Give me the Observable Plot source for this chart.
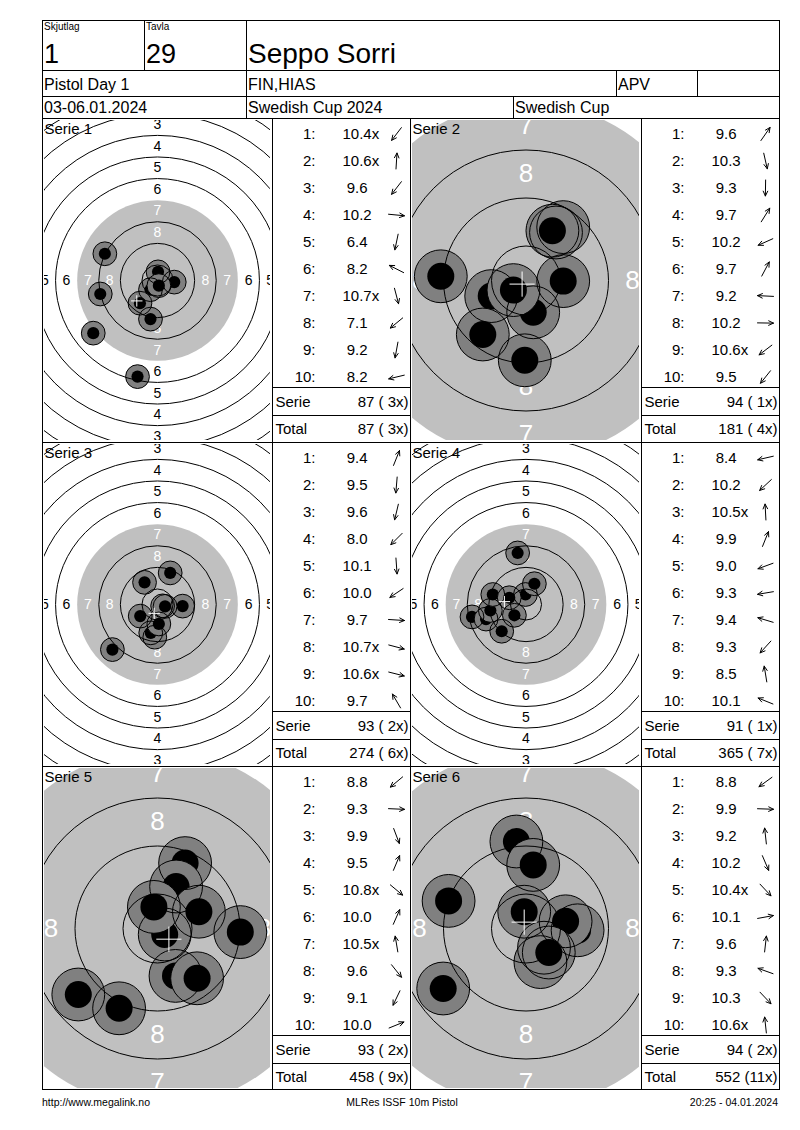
<!DOCTYPE html>
<html>
<head>
<meta charset="utf-8">
<script src="https://cdn.jsdelivr.net/npm/d3@7"></script>
<script src="https://cdn.jsdelivr.net/npm/@observablehq/plot@0.6"></script>
<style>
html, body { margin: 0; padding: 0; background: #fff; }
#page { position: relative; width: 800px; height: 1130px; overflow: hidden; background: #fff;
        font-family: "Liberation Sans", Arial, Helvetica, sans-serif; }
</style>
</head>
<body>
<div id="page"></div>
<script>
// ---------------- data ----------------
const headerSmall = ["Skjutlag", "Tavla"];
const relay = "1";
const lane = "29";
const shooterName = "Seppo Sorri";
const eventName = "Pistol Day 1";
const clubName = "FIN,HIAS";
const className = "APV";
const eventDates = "03-06.01.2024";
const competition = "Swedish Cup 2024";
const cupName = "Swedish Cup";
const footerTexts = ["http://www.megalink.no", "MLRes ISSF 10m Pistol", "20:25 - 04.01.2024"];

const seriesNames = ["Serie 1", "Serie 2", "Serie 3", "Serie 4", "Serie 5", "Serie 6"];
const ringNumbers = [1, 2, 3, 4, 5, 6, 7, 8, 9, 10];

const scores = [
  [10.4, 10.6, 9.6, 10.2, 6.4, 8.2, 10.7, 7.1, 9.2, 8.2],
  [9.6, 10.3, 9.3, 9.7, 10.2, 9.7, 9.2, 10.2, 10.6, 9.5],
  [9.4, 9.5, 9.6, 8.0, 10.1, 10.0, 9.7, 10.7, 10.6, 9.7],
  [8.4, 10.2, 10.5, 9.9, 9.0, 9.3, 9.4, 9.3, 8.5, 10.1],
  [8.8, 9.3, 9.9, 9.5, 10.8, 10.0, 10.5, 9.6, 9.1, 10.0],
  [8.8, 9.9, 9.2, 10.2, 10.4, 10.1, 9.6, 9.3, 10.3, 10.6]
];
// shot positions in mm from target centre (x right, y up)
const shotX = [
  [-2.6, 0.2, -6.5, 6.2, -7.4, -19.5, 0.5, -23.8, -2.6, -21.2],
  [6.2, 1.2, -0.2, 5.0, -5.8, 4.4, -14.2, 6.2, -2.1, -7.2],
  [4.7, -1.0, -2.5, -16.7, 0.5, -6.4, 9.3, 1.9, 2.8, -4.8],
  [-20.0, -4.3, -0.2, 3.1, -14.8, -13.2, -12.3, -9.0, -3.1, -6.2],
  [-13.2, 13.8, 3.0, 4.6, 1.2, 3.1, -0.6, 6.6, -6.4, 6.9],
  [-13.8, 8.6, -1.6, 2.4, 3.0, 6.6, 1.2, -12.9, 3.8, -0.3]
];
const shotY = [
  [-3.4, 3.2, -8.4, -0.6, -35.6, 9.9, -1.9, -19.5, -14.3, -5.0],
  [8.9, -5.3, -13.3, 8.0, -2.6, 8.3, 0.7, -0.1, -1.6, -9.0],
  [11.7, -12.1, -10.5, -16.7, -7.2, -4.3, -0.6, -0.5, -0.7, 8.2],
  [-4.6, -4.0, 3.7, 7.7, -5.4, -2.2, 3.7, -9.9, 19.1, 2.5],
  [-11.0, -0.6, -7.9, 10.9, -1.0, 7.0, 3.6, -8.3, -13.3, 2.8],
  [-10.0, -0.3, 14.5, -5.6, -3.2, 1.2, 10.6, 4.6, -4.0, 2.8]
];

// ---------------- layout / style ----------------
const page = document.getElementById("page");
const font = "'Liberation Sans', Arial, Helvetica, sans-serif";
const ringOuter = n => 5.75 + 8 * (10 - n);   // ISSF 10 m pistol ring radius (mm)
const pelletR = 2.25, markR = 4.4;
const colX = [42, 410], tableX = [272, 641], rowTop = [118, 442, 766], panelH = 324, tableW = 138;
const zoomK = 6.0, normalK = 2.7;
const fmt = s => (s < 10 ? " " : "") + s.toFixed(1) + (s >= 10.4 - 1e-9 ? "x" : "");
const pad2 = n => String(n).padStart(2, " ");

function place(node, left, top, w, h) {
  const div = document.createElement("div");
  div.style.cssText = `position:absolute;left:${left}px;top:${top}px;width:${w}px;height:${h}px;overflow:hidden;`;
  div.appendChild(node);
  page.appendChild(div);
}

let cumSum = 0, cumX = 0;
seriesNames.forEach((name, i) => {
  const col = i % 2, row = Math.floor(i / 2);
  const px = colX[col], ty = rowTop[row];
  const W = tableX[col] - px - 4, H = panelH - 4;
  const shots = scores[i].map((s, j) => ({n: j + 1, s, x: shotX[i][j], y: shotY[i][j]}));
  const zoomed = shots.every(d => Math.abs(d.x) + pelletR <= W / 2 / zoomK && Math.abs(d.y) + pelletR <= H / 2 / zoomK);
  const k = zoomed ? zoomK : normalK;
  const hx = W / 2 / k, hy = H / 2 / k;
  const blackArea = [{r: ringOuter(7)}];
  const rings = ringNumbers.filter(n => n !== 7).map(n => ({n, r: ringOuter(n)}));
  const labels = ringNumbers.filter(n => n <= 8).flatMap(n =>
    [[0, 1], [0, -1], [-1, 0], [1, 0]].map(([a, b]) => ({n, x: a * (ringOuter(n) - 4), y: b * (ringOuter(n) - 4)})));
  const mpi = {x: d3.mean(shots, d => d.x), y: d3.mean(shots, d => d.y)};
  const c = 2.1;
  const fs = zoomed ? 26 : 14;

  const target = Plot.plot({
    width: W, height: H, margin: 0,
    x: {domain: [-hx, hx], range: [0, W], axis: null},
    y: {domain: [-hy, hy], range: [H, 0], axis: null},
    r: {type: "linear", domain: [0, 100], range: [0, 100 * k]},
    style: {background: "white", fontFamily: font, overflow: "hidden"},
    marks: [
      Plot.dot(blackArea, {x: () => 0, y: () => 0, r: "r", fill: "#c0c0c0", sort: null}),
      Plot.text(labels.filter(d => d.n < 7), {x: "x", y: "y", text: d => String(d.n), fill: "black", fontSize: fs}),
      Plot.text(labels.filter(d => d.n >= 7), {x: "x", y: "y", text: d => String(d.n), fill: "white", fontSize: fs}),
      ...shots.flatMap(d => [
        Plot.dot([d], {x: "x", y: "y", r: () => markR, fill: "#808080"}),
        Plot.dot([d], {x: "x", y: "y", r: () => pelletR, fill: "black"})
      ]),
      Plot.dot(shots, {x: "x", y: "y", r: () => markR, fill: "none", stroke: "black", strokeWidth: 1, sort: null}),
      Plot.dot(rings, {x: () => 0, y: () => 0, r: "r", fill: "none", stroke: "black", strokeWidth: 1, sort: null}),
      Plot.link([mpi], {x1: d => d.x - c, x2: d => d.x + c, y1: "y", y2: "y", stroke: "white", strokeWidth: 1}),
      Plot.link([mpi], {x1: "x", x2: "x", y1: d => d.y - c, y2: d => d.y + c, stroke: "white", strokeWidth: 1}),
      Plot.text([name], {frameAnchor: "top-left", text: d => d, textAnchor: "start", lineAnchor: "top",
                         fontSize: 15, dx: 0, dy: 3, fill: "black"})
    ]
  });
  place(target, px + 2, ty + 2, W, H);

  // score table
  const rowsData = shots.map((d, j) => ({label: `${d.n}:`, text: fmt(d.s), y: 15.5 + 27 * j, a: Math.atan2(d.y, d.x)}));
  const serieSum = d3.sum(scores[i], s => Math.floor(s + 1e-9));
  const serieX = scores[i].filter(s => s >= 10.4 - 1e-9).length;
  cumSum += serieSum; cumX += serieX;
  const summary = [
    {label: "Serie", value: `${serieSum} (${pad2(serieX)}x)`, y: 283.5},
    {label: "Total", value: `${cumSum} (${pad2(cumX)}x)`, y: 310.5}
  ];
  const half = 8, ax = 124;
  const table = Plot.plot({
    width: tableW, height: panelH, margin: 0,
    x: {domain: [0, tableW], range: [0, tableW], axis: null},
    y: {domain: [0, panelH], range: [0, panelH], axis: null},
    style: {background: "transparent", fontFamily: font},
    marks: [
      Plot.text(rowsData, {x: () => 43, y: "y", text: "label", textAnchor: "end", fontSize: 15, fill: "black"}),
      Plot.text(rowsData, {x: () => 70, y: "y", text: "text", textAnchor: "start", fontSize: 15, fill: "black"}),
      Plot.arrow(rowsData, {
        x1: d => ax - half * Math.cos(d.a), y1: d => d.y + half * Math.sin(d.a),
        x2: d => ax + half * Math.cos(d.a), y2: d => d.y - half * Math.sin(d.a),
        stroke: "black", strokeWidth: 1, headLength: 9, headAngle: 50
      }),
      Plot.text(summary, {x: () => 3, y: "y", text: "label", textAnchor: "start", fontSize: 15, fill: "black"}),
      Plot.text(summary, {x: () => 136, y: "y", text: "value", textAnchor: "end", fontSize: 15, fill: "black"})
    ]
  });
  place(table, tableX[col], ty, tableW, panelH);
});

// ---------------- frame, header, footer ----------------
const svg = d3.create("svg").attr("width", 800).attr("height", 1130)
  .style("position", "absolute").style("left", "0px").style("top", "0px")
  .style("pointer-events", "none").style("font-family", font);
const hl = (x1, x2, y) => svg.append("line").attr("x1", x1).attr("x2", x2 + 1).attr("y1", y + 0.5).attr("y2", y + 0.5)
  .attr("stroke", "black").attr("stroke-width", 1);
const vl = (x, y1, y2) => svg.append("line").attr("x1", x + 0.5).attr("x2", x + 0.5).attr("y1", y1).attr("y2", y2 + 1)
  .attr("stroke", "black").attr("stroke-width", 1);
const bottom = rowTop[2] + panelH - 1;
[20, 70, 96, 118, 442, 766, bottom].forEach(y => hl(42, 779, y));
vl(42, 20, bottom); vl(779, 20, bottom);
vl(144, 20, 70); vl(246, 20, 118);
vl(616, 70, 96); vl(697, 70, 96); vl(513, 96, 118);
[272, 410, 641].forEach(x => vl(x, 118, bottom));
rowTop.forEach(ty => tableX.forEach(tx => { hl(tx, tx + tableW, ty + 269); hl(tx, tx + tableW, ty + 297); }));

const txt = (s, x, y, size, anchor = "start") => svg.append("text").attr("x", x).attr("y", y)
  .attr("font-size", size).attr("text-anchor", anchor).attr("fill", "black").text(s);
txt(headerSmall[0], 44, 30, 10);
txt(headerSmall[1], 146, 30, 10);
txt(relay, 44, 63, 27);
txt(lane, 146, 63, 27);
txt(shooterName, 248, 63, 28);
txt(eventName, 44, 90, 16);
txt(clubName, 248, 90, 16);
txt(className, 618, 90, 16);
txt(eventDates, 44, 113, 16);
txt(competition, 248, 113, 16);
txt(cupName, 515, 113, 16);
txt(footerTexts[0], 42, 1106, 10.5, "start");
txt(footerTexts[1], 402, 1106, 10.5, "middle");
txt(footerTexts[2], 778, 1106, 10.5, "end");
page.appendChild(svg.node());
</script>
</body>
</html>
